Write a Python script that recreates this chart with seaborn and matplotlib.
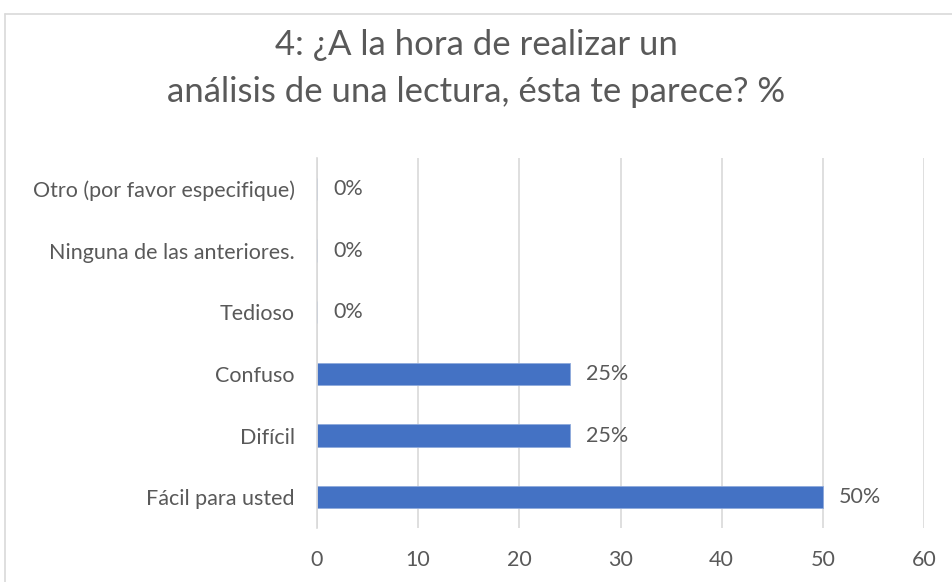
import matplotlib
matplotlib.use("Agg")
import matplotlib.pyplot as plt
import seaborn as sns
import pandas as pd
from matplotlib.lines import Line2D

# Datos de la gráfica
categorias = ["Otro (por favor especifique)", "Ninguna de las anteriores.", "Tedioso",
              "Confuso", "Difícil", "Fácil para usted"]
porcentajes = [0, 0, 0, 25, 25, 50]
ticks_x = [0, 10, 20, 30, 40, 50, 60]

df = pd.DataFrame({"categoria": categorias, "porcentaje": porcentajes})

sns.set_theme(style="white")
plt.rcParams["font.family"] = ["Lato", "DejaVu Sans"]

gris = "#595959"
fig = plt.figure(figsize=(9.53, 5.82), dpi=100)
ax = fig.add_axes([317/953, 1-528/582, (924-317)/953, (528-158)/582])

sns.barplot(data=df, x="porcentaje", y="categoria", order=categorias, orient="h",
            color="#4472C4", saturation=1, width=0.36, ax=ax,
            edgecolor="#8FAADC", linewidth=0.6)

ax.set_xlim(0, 60)
ax.set_ylim(5.5, -0.5)
ax.set_xticks(ticks_x)
ax.xaxis.grid(True, color="#D9D9D9", linewidth=1.2)
ax.set_axisbelow(True)
for s in ["top", "right", "bottom"]:
    ax.spines[s].set_visible(False)
ax.spines["left"].set_color("#D9D9D9")
ax.spines["left"].set_linewidth(1.2)
ax.tick_params(axis="both", length=0, labelsize=15.5, colors=gris)
ax.tick_params(axis="x", pad=16)
ax.tick_params(axis="y", pad=16)
ax.set_xlabel("")
ax.set_ylabel("")

# Etiquetas de valor
for i, v in enumerate(porcentajes):
    ax.annotate(f"{v}%", (v, i), xytext=(11.5, 0), textcoords="offset points",
                ha="left", va="center", fontsize=15.5, color=gris)

fig.text(0.5, 1-45/582, "4: ¿A la hora de realizar un", ha="center", va="center",
         fontsize=25, color=gris)
fig.text(0.5, 1-92/582, "análisis de una lectura, ésta te parece? %", ha="center",
         va="center", fontsize=25, color=gris)

# Borde del área del gráfico
fig.add_artist(Line2D([5.5/953, 1], [1-13.5/582, 1-13.5/582], transform=fig.transFigure,
                      color="#D9D9D9", linewidth=1.2))
fig.add_artist(Line2D([5.5/953, 5.5/953], [0, 1-13.5/582], transform=fig.transFigure,
                      color="#D9D9D9", linewidth=1.2))

fig.savefig("out.png", dpi=100)
